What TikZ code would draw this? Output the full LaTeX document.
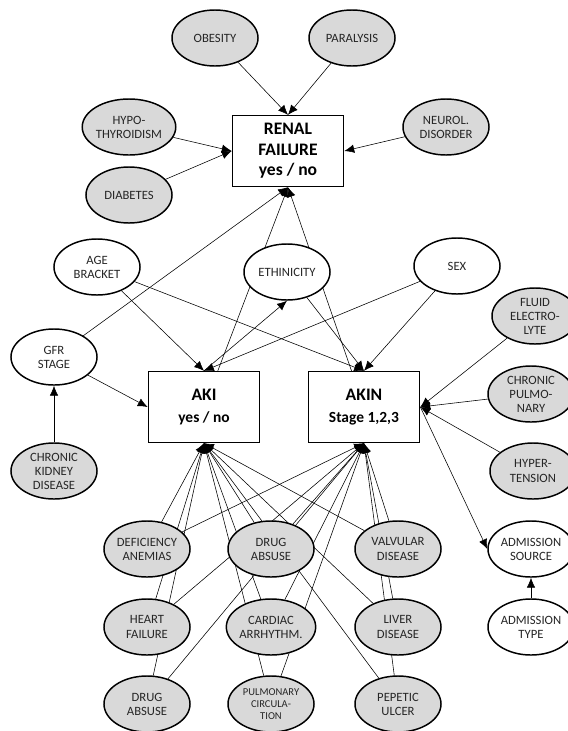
\documentclass[tikz,border=0pt]{standalone}
\usepackage{fontspec}
\setmainfont{Carlito}
\usepackage{tikz}
\usetikzlibrary{shapes,arrows,arrows.meta}
\usepackage{xcolor}
\definecolor{riskgray}{RGB}{217,217,217}
\pgfdeclarelayer{background}
\pgfsetlayers{background,main}

\begin{document}
\begin{tikzpicture}[x=0.025cm,y=-0.025cm,line width=1.05pt,>={Latex[length=7pt,width=6pt]},
		risk/.style={ellipse,draw,fill=riskgray,text=black!85,minimum width=2.15cm,minimum height=1.4cm,inner sep=0pt,align=center,font=\fontsize{9}{10}\selectfont},
		factor/.style={risk,fill=white},
		outcome/.style={rectangle,draw,fill=white,inner sep=2pt,minimum width=2.78cm,minimum height=1.77cm,align=center,font=\bfseries\fontsize{12.5}{14.7}\selectfont}]
		\useasboundingbox (0,0) rectangle (567,731);
		% renal failure and its causes
		\node[outcome] (RF) at (288,151) {RENAL\\FAILURE\\yes / no};
		\node[risk] (OB) at (215,38) {OBESITY};
		\node[risk] (PAR) at (352,38) {PARALYSIS};
		\node[risk] (HYPO) at (129,127) {HYPO-\\THYROIDISM};
		\node[risk] (DIAB) at (129,195) {DIABETES};
		\node[risk] (NEUR) at (446,127) {NEUROL.\\DISORDER};
		% patient factors
		\node[factor] (AGE) at (97,267) {AGE\\BRACKET};
		\node[factor] (ETH) at (287,272) {ETHINICITY};
		\node[factor] (SEX) at (457,266) {SEX};
		\node[factor] (GFR) at (54,357) {GFR\\STAGE};
		\node[risk] (CKD) at (54,471) {CHRONIC\\KIDNEY\\DISEASE};
		% kidney injury
		\node[outcome] (AKI) at (204,407) {AKI\\[1pt]{\fontsize{11}{13}\selectfont yes / no}};
		\node[outcome] (AKIN) at (364,407) {AKIN\\[1pt]{\fontsize{11}{13}\selectfont Stage 1,2,3}};
		\node[risk] (FLU) at (535,316) {FLUID\\ELECTRO-\\LYTE};
		\node[risk] (CPU) at (531,394) {CHRONIC\\PULMO-\\NARY};
		\node[risk] (HYP) at (533,471) {HYPER-\\TENSION};
		\node[factor] (ADMS) at (531,549) {ADMISSION\\SOURCE};
		\node[factor] (ADMT) at (531,627) {ADMISSION\\TYPE};
		% comorbidities
		\node[risk] (DEF) at (147,549) {DEFICIENCY\\ANEMIAS};
		\node[risk] (DRA) at (271,549) {DRUG\\ABSUSE};
		\node[risk] (VAL) at (398,549) {VALVULAR\\DISEASE};
		\node[risk] (HRT) at (147,627) {HEART\\FAILURE};
		\node[risk] (CAR) at (271,627) {CARDIAC\\ARRHYTHM.};
		\node[risk] (LIV) at (398,627) {LIVER\\DISEASE};
		\node[risk] (DRB) at (147,704) {DRUG\\ABSUSE};
		\node[risk, font=\fontsize{7.5}{8.8}\selectfont] (PUL) at (271,704) {PULMONARY\\CIRCULA-\\TION};
		\node[risk] (PEP) at (398,704) {PEPETIC\\ULCER};
		
		\begin{pgfonlayer}{background}
		\draw[->] (OB) -- (RF.north);
		\draw[->] (PAR) -- (RF.north);
		\draw[->] (HYPO) -- (RF.west);
		\draw[->] (DIAB) -- (RF.west);
		\draw[->] (NEUR) -- (RF.east);
		\draw[->] (GFR) -- (RF.south);
		\draw[->] (AKI) -- (RF.south);
		\draw[->] (AKIN) -- (RF.south);
		\draw[->] (AGE) -- (AKI.north);
		\draw[->] (SEX) -- (AKI.north);
		\draw[->] (AKI.north) -- (ETH.south);
		\draw[->] (AGE) -- (AKIN.north);
		\draw[->] (ETH) -- (AKIN.north);
		\draw[->] (SEX) -- (AKIN.north);
		\draw[->] (GFR) -- (AKI.west);
		\draw[->] (CKD) -- (GFR);
		\draw[->] (FLU) -- (AKIN.east);
		\draw[->] (CPU) -- (AKIN.east);
		\draw[->] (HYP) -- (AKIN.east);
		\draw[->] (AKIN.east) -- (ADMS.west);
		\draw[->] (ADMT) -- (ADMS);
		% comorbidities to AKI and AKIN
		\draw[->] (DEF) -- (AKI.south);
		\draw[->] (DRA) -- (AKI.south);
		\draw[->] (VAL) -- (AKI.south);
		\draw[->] (HRT) -- (AKI.south);
		\draw[->] (CAR) -- (AKI.south);
		\draw[->] (LIV) -- (AKI.south);
		\draw[->] (DRB) -- (AKI.south);
		\draw[->] (PUL) -- (AKI.south);
		\draw[->] (PEP) -- (AKI.south);
		\draw[->] (DEF) -- (AKIN.south);
		\draw[->] (DRA) -- (AKIN.south);
		\draw[->] (VAL) -- (AKIN.south);
		\draw[->] (HRT) -- (AKIN.south);
		\draw[->] (CAR) -- (AKIN.south);
		\draw[->] (LIV) -- (AKIN.south);
		\draw[->] (DRB) -- (AKIN.south);
		\draw[->] (PUL) -- (AKIN.south);
		\draw[->] (PEP) -- (AKIN.south);
		\end{pgfonlayer}
\end{tikzpicture}
\end{document}
